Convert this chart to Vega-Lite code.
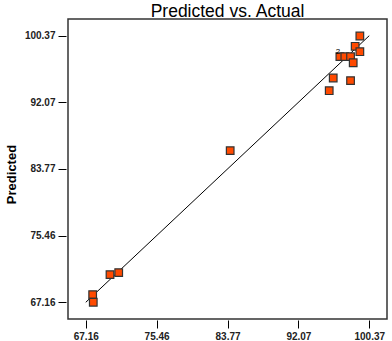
{
  "$schema": "https://vega.github.io/schema/vega-lite/v6.json",
  "width": 319,
  "height": 300,
  "autosize": {"type": "none"},
  "padding": {"left": 68, "top": 19, "right": 5, "bottom": 22},
  "background": "white",
  "title": {
    "text": "Predicted vs. Actual",
    "font": "Liberation Sans",
    "fontSize": 17.5,
    "fontWeight": "normal",
    "color": "black",
    "anchor": "middle",
    "offset": -1
  },
  "config": {
    "view": {"stroke": "#333333", "strokeWidth": 1.5},
    "axis": {
      "grid": false,
      "domain": false,
      "tickColor": "black",
      "tickSize": 8,
      "tickWidth": 1,
      "labelFont": "Liberation Sans",
      "labelFontWeight": "bold",
      "labelFontSize": 10,
      "labelColor": "#222222",
      "titleFont": "Liberation Sans",
      "titleFontWeight": "bold",
      "titleFontSize": 13,
      "titleColor": "black"
    }
  },
  "layer": [
    {
      "data": {"values": [{"actual": 67.16, "predicted": 67.16}, {"actual": 100.37, "predicted": 100.37}]},
      "mark": {"type": "line", "color": "black", "strokeWidth": 1},
      "encoding": {
        "x": {"field": "actual", "type": "quantitative", "scale": {"domain": [65.08, 102.45], "nice": false, "zero": false},
          "axis": {"values": [67.16, 75.46, 83.77, 92.07, 100.37], "format": ".2f", "title": null, "offset": 1, "labelPadding": 3}},
        "y": {"field": "predicted", "type": "quantitative", "scale": {"domain": [65.08, 102.45], "nice": false, "zero": false},
          "axis": {"values": [67.16, 75.46, 83.77, 92.07, 100.37], "format": ".2f", "title": "Predicted", "offset": 2, "labelPadding": 3, "titlePadding": 6, "titleY": 155}}
      }
    },
    {
      "data": {"values": [
        {"actual": 99.27, "predicted": 100.33},
        {"actual": 98.72, "predicted": 99.05},
        {"actual": 99.27, "predicted": 98.38},
        {"actual": 96.93, "predicted": 97.76},
        {"actual": 97.51, "predicted": 97.76},
        {"actual": 98.18, "predicted": 97.76},
        {"actual": 98.49, "predicted": 97.0},
        {"actual": 96.15, "predicted": 95.1},
        {"actual": 98.18, "predicted": 94.77},
        {"actual": 95.68, "predicted": 93.52},
        {"actual": 84.08, "predicted": 86.05},
        {"actual": 70.0, "predicted": 70.61},
        {"actual": 71.02, "predicted": 70.86},
        {"actual": 67.97, "predicted": 68.12},
        {"actual": 68.04, "predicted": 67.17}
      ]},
      "mark": {"type": "point", "shape": "square", "filled": true, "size": 58, "fill": "#FF4A00", "stroke": "#333333", "strokeWidth": 1.2, "opacity": 1},
      "encoding": {
        "x": {"field": "actual", "type": "quantitative"},
        "y": {"field": "predicted", "type": "quantitative"}
      }
    },
    {
      "data": {"values": [{"actual": 96.7, "predicted": 98.3, "label": "2"}]},
      "mark": {"type": "text", "fontSize": 8, "font": "Liberation Sans", "color": "black", "align": "center", "baseline": "middle"},
      "encoding": {
        "x": {"field": "actual", "type": "quantitative"},
        "y": {"field": "predicted", "type": "quantitative"},
        "text": {"field": "label"}
      }
    }
  ]
}
